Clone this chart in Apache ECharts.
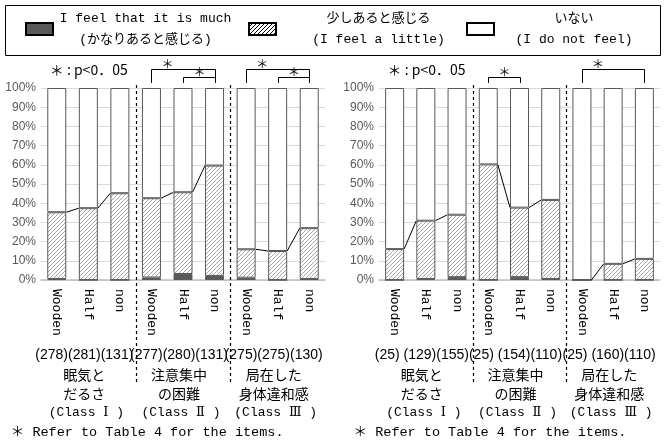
<!DOCTYPE html>
<html>
<head>
<meta charset="utf-8">
<script src="https://cdn.jsdelivr.net/npm/echarts@6/dist/echarts.min.js"></script>
<style>
html,body{margin:0;padding:0;background:#fff}
#main{width:665px;height:441px}
</style>
</head>
<body>
<div id="main"></div>
<script>
// categories / labels
const types = ['Wooden', 'Half', 'non'];
const categories = ['Wooden', 'Half', 'non', 'Wooden', 'Half', 'non', 'Wooden', 'Half', 'non'];
const classNums = ['Ⅰ', 'Ⅱ', 'Ⅲ'];
const itemNames = [['眠気と', 'だるさ'], ['注意集中', 'の困難'], ['局在した', '身体違和感']];
const seriesNames = ['I feel that it is much', '少しあると感じる', 'いない'];
const legendSub = ['(かなりあると感じる)', '(I feel a little)', '(I do not feel)'];
const sigNote = '＊ : p<0．05';
const footNote = '＊ Refer to Table 4 for the items.';

// left panel (%)
const leftMuch = [0.5, 0, 0, 1.3, 3.1, 2.1, 1.2, 0, 0.5];
const leftLittle = [34.8, 37.4, 45.2, 41.3, 42.6, 57.5, 14.8, 15.1, 26.5];
const leftNot = [64.7, 62.6, 54.8, 57.4, 54.3, 40.4, 84.0, 84.9, 73.0];
const leftCounts = [[278, 281, 131], [277, 280, 131], [275, 275, 130]];
const leftSig = [[3, 5, 0], [4, 5, 1], [6, 8, 0], [7, 8, 1]];

// right panel (%)
const rightMuch = [0, 0.5, 1.5, 0, 1.5, 0.5, 0, 0, 0];
const rightLittle = [16.1, 30.4, 32.5, 60.2, 36.2, 41.2, 0, 8.4, 11.0];
const rightNot = [83.9, 69.1, 66.0, 39.8, 62.3, 58.3, 100, 91.6, 89.0];
const rightCounts = [[25, 129, 155], [25, 154, 110], [25, 160, 110]];
const rightSig = [[3, 4, 1], [6, 8, 0]];

const linkPairs = [[0, 1], [1, 2], [3, 4], [4, 5], [6, 7], [7, 8]];

const MONO = '"Liberation Mono", "Noto Sans CJK JP", monospace';
const JP = '"Noto Sans CJK JP", sans-serif';
const SANS = '"Liberation Sans", Arial, sans-serif';
const BAR_W = 19;

function hatch(color) {
    const c = document.createElement('canvas');
    c.width = c.height = 4;
    const g = c.getContext('2d');
    g.fillStyle = '#fff';
    g.fillRect(0, 0, 4, 4);
    g.strokeStyle = color;
    g.lineWidth = 1;
    g.beginPath();
    for (let k = -1; k <= 1; k++) {
        g.moveTo(k * 4, 4);
        g.lineTo(k * 4 + 4, 0);
    }
    g.stroke();
    return { image: c, repeat: 'repeat' };
}

const fills = ['#595959', hatch('#a6a6a6'), '#ffffff'];

function panelSeries(p, much, little, not) {
    const out = [much, little, not].map(function (vals, i) {
        return {
            name: seriesNames[i],
            type: 'bar',
            stack: 'panel' + p,
            xAxisIndex: p,
            yAxisIndex: p,
            barWidth: BAR_W,
            silent: true,
            itemStyle: { color: fills[i], borderColor: '#595959', borderWidth: 1 },
            data: vals
        };
    });
    const tops = much.map((v, i) => v + little[i]);
    out.push({
        type: 'custom',
        xAxisIndex: p,
        yAxisIndex: p,
        z: 5,
        silent: true,
        encode: { x: [0, 1], y: [2, 3] },
        data: linkPairs.map(([a, b]) => [a, b, tops[a], tops[b]]),
        renderItem: function (params, api) {
            const p1 = api.coord([api.value(0), api.value(2)]);
            const p2 = api.coord([api.value(1), api.value(3)]);
            const h = BAR_W / 2;
            return {
                type: 'line',
                shape: { x1: p1[0] + h, y1: p1[1], x2: p2[0] - h, y2: p2[1] },
                style: { stroke: '#000', lineWidth: 1 }
            };
        }
    });
    return out;
}

function xAxisFor(p) {
    return {
        type: 'category',
        gridIndex: p,
        data: categories,
        axisLine: { lineStyle: { color: '#bfbfbf', width: 1.5 } },
        axisTick: { show: false },
        axisLabel: { interval: 0, rotate: -90, margin: 9, fontFamily: MONO, fontSize: 13, color: '#000' }
    };
}
function yAxisFor(p) {
    return {
        type: 'value',
        gridIndex: p,
        min: 0,
        max: 100,
        interval: 10,
        axisLine: { show: false },
        axisTick: { show: false },
        splitLine: { lineStyle: { color: '#d9d9d9' } },
        axisLabel: { formatter: '{value}%', fontFamily: SANS, fontSize: 12, color: '#595959', margin: 5 }
    };
}

// one legend block per entry so each sits where the original puts it
const legendLeft = [20, 243, 461];
const legendTextW = [175, 195, 150];
const legends = seriesNames.map(function (n, i) {
    return {
        left: legendLeft[i],
        top: 7,
        icon: 'rect',
        itemWidth: 27,
        itemHeight: 12,
        selectedMode: false,
        data: [i === 1
            ? { name: n, itemStyle: { color: hatch('#000'), borderColor: '#000' } }
            : { name: n, itemStyle: { borderColor: '#000' } }],
        formatter: function (name) {
            return '{t|' + name + '}\n{t|' + legendSub[i] + '}';
        },
        textStyle: {
            rich: { t: { width: legendTextW[i], align: 'center', fontFamily: MONO, fontSize: 13, lineHeight: 21, color: '#000' } }
        }
    };
});

const chart = echarts.init(document.getElementById('main'));
chart.setOption({
    animation: false,
    legend: legends,
    grid: [
        { left: 41, right: 340, top: 88, bottom: 161 },
        { left: 379, right: 5, top: 88, bottom: 161 }
    ],
    xAxis: [xAxisFor(0), xAxisFor(1)],
    yAxis: [yAxisFor(0), yAxisFor(1)],
    series: panelSeries(0, leftMuch, leftLittle, leftNot).concat(panelSeries(1, rightMuch, rightLittle, rightNot))
});

// annotations placed from the axes
function px(p, cat, val) {
    return chart.convertToPixel({ gridIndex: p }, [cat, val]);
}
const graphics = [{
    type: 'rect', shape: { x: 5.5, y: 5.5, width: 655, height: 50 },
    style: { fill: 'none', stroke: '#000', lineWidth: 1 }, z: 0
}];
function text(x, y, str, font, size, align, extra) {
    graphics.push({
        type: 'text', x: x, y: y, z: 10,
        style: Object.assign({ text: str, fontFamily: font, fontSize: size, fill: '#000', align: align || 'center', verticalAlign: 'middle' }, extra || {})
    });
}
[[leftCounts, leftSig], [rightCounts, rightSig]].forEach(function ([counts, sigs], p) {
    const gl = px(p, 0, 0)[0] - 16;
    text(gl + 9, 70, sigNote, JP, 14, 'left');
    [2.5, 5.5].forEach(function (k) {
        const x = Math.round((px(p, k - 0.5, 0)[0] + px(p, k + 0.5, 0)[0]) / 2) + 0.5;
        graphics.push({
            type: 'line', z: 10, shape: { x1: x, y1: 85, x2: x, y2: 382 },
            style: { stroke: '#000', lineWidth: 1.2, lineDash: [3, 3] }
        });
    });
    sigs.forEach(function ([a, b, lvl]) {
        const xa = Math.round(px(p, a, 0)[0]) + 0.5;
        const xb = Math.round(px(p, b, 0)[0]) + 0.5;
        const yt = lvl ? 77.5 : 69.5;
        graphics.push({
            type: 'polyline', z: 10, shape: { points: [[xa, 83], [xa, yt], [xb, yt], [xb, 83]] },
            style: { stroke: '#000', fill: 'none', lineWidth: 1 }
        });
        text(xa + (xb - xa) * (lvl ? 0.5 : 0.25), yt - 5, '＊', JP, 12);
    });
    counts.forEach(function (c, g) {
        const cx = px(p, g * 3 + 1, 0)[0] - 4;
        const s = c.map(n => '(' + n + ')' + (n < 100 ? ' ' : '')).join('');
        text(cx, 355, s, SANS, 14);
        text(cx, 384, itemNames[g].join('\n'), JP, 14, 'center', { lineHeight: 19 });
        text(cx + 2, 413, '(Class {r|' + classNums[g] + '} )', MONO, 13, 'center', {
            rich: { r: { fontFamily: '"DejaVu Serif", serif', fontSize: 13 } }
        });
    });
    text(gl - 30 + (p ? 5 : 0), 432, footNote, MONO, 13.5, 'left');
});
chart.setOption({ graphic: graphics });
</script>
</body>
</html>
